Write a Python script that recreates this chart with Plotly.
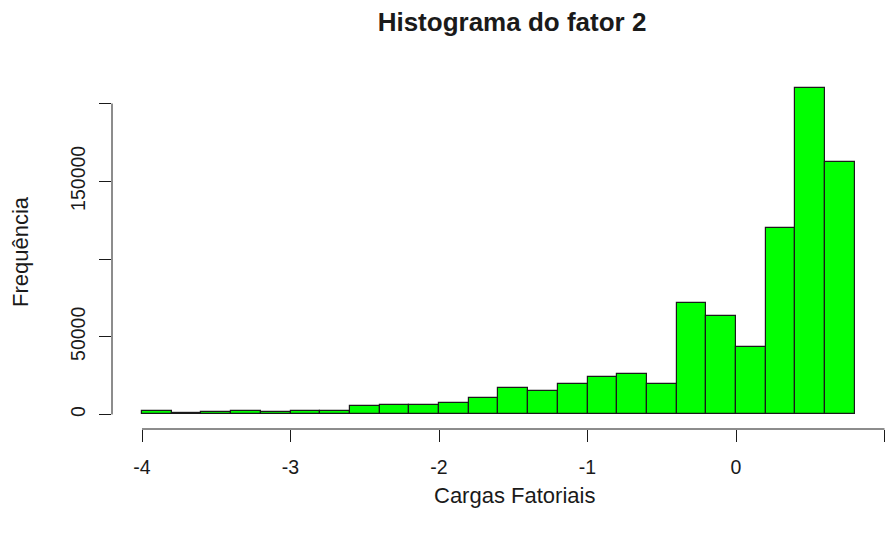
import plotly.graph_objects as go

# Histogram of factor 2 loadings: bin left edges (width 0.2) and counts
bin_left = [-4.0, -3.8, -3.6, -3.4, -3.2, -3.0, -2.8, -2.6, -2.4, -2.2, -2.0, -1.8,
            -1.6, -1.4, -1.2, -1.0, -0.8, -0.6, -0.4, -0.2, 0.0, 0.2, 0.4, 0.6]
bin_width = 0.2
counts = [2400, 900, 1500, 2500, 1500, 2500, 2500, 5200, 6300, 6300, 7500, 10800,
          17000, 15000, 19800, 24000, 25800, 19800, 71400, 63400, 43500, 120000, 210300, 162100]

x_ticks = [-4, -3, -2, -1, 0, 1]
x_tick_text = ["-4", "-3", "-2", "-1", "0", "1"]
y_ticks = [0, 50000, 100000, 150000, 200000]
y_tick_text = ["0", "50000", "", "150000", ""]

FONT = "Liberation Sans, Arial, sans-serif"
INK = "#1a1a1a"

centers = [b + bin_width / 2 for b in bin_left]

fig = go.Figure(
    go.Bar(
        x=centers,
        y=counts,
        width=bin_width,
        marker=dict(color="#00ff00", line=dict(color=INK, width=1.2)),
        hoverinfo="skip",
    )
)

fig.update_layout(
    width=886,
    height=535,
    margin=dict(l=112, r=0, t=75, b=106, pad=0),
    plot_bgcolor="white",
    paper_bgcolor="white",
    showlegend=False,
    bargap=0,
    font=dict(family=FONT, color=INK, size=20),
    title=dict(
        text="<b>Histograma do fator 2</b>",
        font=dict(family=FONT, size=26, color=INK),
        xref="container", x=512 / 886, xanchor="center",
        yref="container", y=1 - 22 / 535, yanchor="middle",
    ),
    xaxis=dict(
        range=[-4.202, 1.01],
        tickvals=x_ticks,
        ticktext=x_tick_text,
        ticks="outside",
        ticklen=12,
        tickwidth=1,
        tickcolor=INK,
        ticklabelstandoff=9,
        showline=False,
        showgrid=False,
        zeroline=False,
        tickfont=dict(size=19.5, family=FONT, color=INK),
    ),
    yaxis=dict(
        range=[-9340, 218350],
        tickvals=y_ticks,
        ticktext=y_tick_text,
        ticks="outside",
        ticklen=12,
        tickwidth=1,
        tickcolor=INK,
        tickangle=-90,
        ticklabelstandoff=6,
        showline=False,
        showgrid=False,
        zeroline=False,
        tickfont=dict(size=19.5, family=FONT, color=INK),
    ),
    shapes=[
        # R-style axis lines spanning first to last tick
        dict(type="line", xref="x", yref="paper", x0=x_ticks[0], x1=x_ticks[-1], y0=0, y1=0,
             line=dict(color=INK, width=1)),
        dict(type="line", xref="paper", yref="y", x0=0, x1=0, y0=y_ticks[0], y1=y_ticks[-1],
             line=dict(color=INK, width=1)),
    ],
    annotations=[
        dict(text="Cargas Fatoriais", xref="paper", yref="paper",
             x=(514 - 112) / 774, y=0, yshift=-(495 - 429),
             xanchor="center", yanchor="middle", showarrow=False,
             font=dict(size=22, family=FONT, color=INK)),
        dict(text="Frequência", xref="paper", yref="paper",
             x=0, xshift=20 - 112, y=0.5,
             xanchor="center", yanchor="middle", textangle=-90, showarrow=False,
             font=dict(size=22, family=FONT, color=INK)),
    ],
)

fig.write_html("out.html")
